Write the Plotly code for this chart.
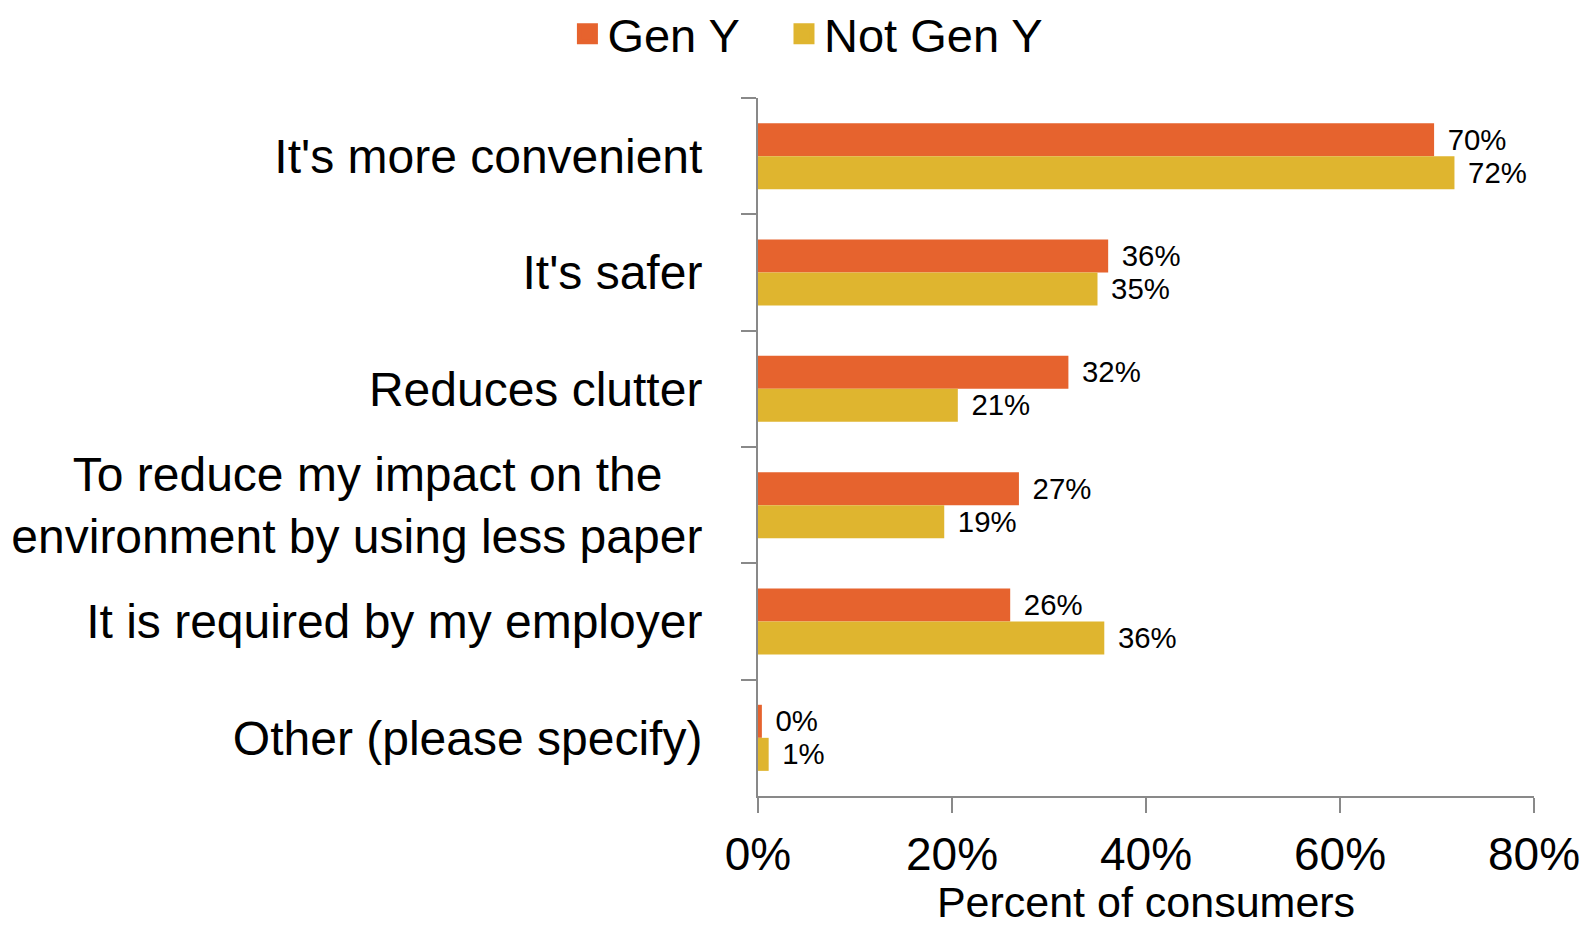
import plotly.graph_objects as go

categories = [
    "It's more convenient",
    "It's safer",
    "Reduces clutter",
    "To reduce my impact on the\u00a0\u00a0\u00a0<br>environment by using less paper",
    "It is required by my employer",
    "Other (please specify)",
]
gen_y = [69.7, 36.1, 32.0, 26.9, 26.0, 0.4]
not_gen_y = [71.8, 35.0, 20.6, 19.2, 35.7, 1.1]
series_names = ["Gen Y", "Not Gen Y"]
legend_labels = ["Gen Y\u00a0\u00a0\u00a0", "Not Gen Y"]
colors = ["#E6632E", "#DFB52F"]
x_ticks = [0, 20, 40, 60, 80]

FONT = "Liberation Sans, Arial, sans-serif"

fig = go.Figure()
for name, vals, col in zip(series_names, [gen_y, not_gen_y], colors):
    fig.add_trace(go.Bar(
        y=categories, x=vals, name=name, orientation="h",
        marker=dict(color=col, line=dict(width=0)),
        texttemplate="\u00a0\u200a%{x:.0f}%", textposition="outside",
        textfont=dict(size=32, color="black", family=FONT),
        cliponaxis=False, showlegend=False,
    ))
# legend proxies (square swatches)
for name, col in zip(legend_labels, colors):
    fig.add_trace(go.Scatter(
        x=[None], y=[None], mode="markers", name=name,
        marker=dict(symbol="square", size=24, color=col, line=dict(color=col, width=8)),
    ))

axis_col = "#898989"
fig.update_layout(
    width=1585, height=926,
    margin=dict(l=758, r=51, t=98, b=130),
    paper_bgcolor="white", plot_bgcolor="white",
    barmode="group", bargap=0.432, bargroupgap=0,
    font=dict(family=FONT, color="black"),
    legend=dict(
        orientation="h", x=-0.2456, xanchor="left",
        yref="container", y=0.963, yanchor="middle",
        font=dict(size=47, family=FONT, color="black"),
        itemsizing="trace", traceorder="normal",
    ),
)
fig.update_yaxes(
    autorange="reversed", type="category", automargin=False,
    showline=True, linecolor=axis_col, linewidth=2,
    ticks="outside", tickson="boundaries", ticklen=15, tickcolor=axis_col, tickwidth=2,
    tickfont=dict(size=48, family=FONT, color="black"),
    ticklabelstandoff=44, showgrid=False,
)
fig.update_xaxes(
    range=[0, 80], tickvals=x_ticks, ticktext=[f"{v}%" for v in x_ticks],
    automargin=False,
    showline=True, linecolor=axis_col, linewidth=2,
    ticks="outside", ticklen=15, tickcolor=axis_col, tickwidth=2,
    tickfont=dict(size=46, family=FONT, color="black"),
    ticklabelstandoff=2,
    showgrid=False, zeroline=False,
    title=dict(text="Percent of consumers", font=dict(size=43, family=FONT, color="black"), standoff=18),
)

fig.write_html("out.html")
